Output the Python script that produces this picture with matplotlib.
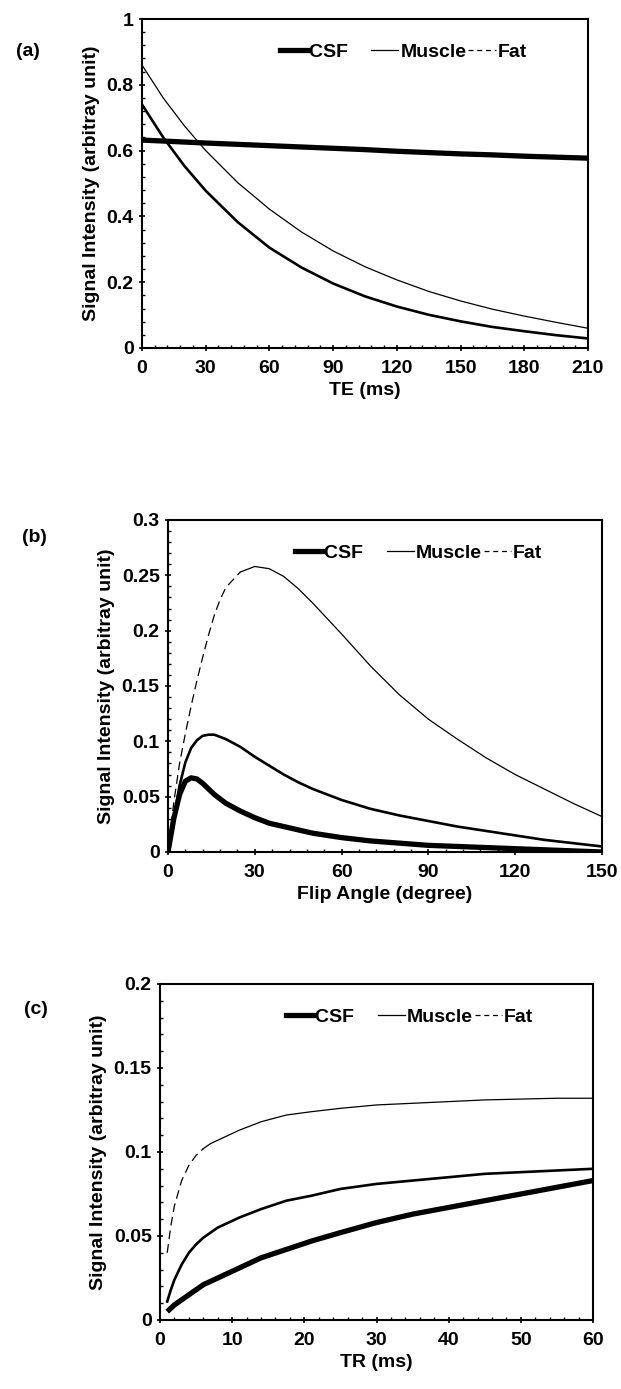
import matplotlib
matplotlib.use("Agg")
import matplotlib.pyplot as plt
from matplotlib.lines import Line2D
from matplotlib.ticker import AutoMinorLocator

plt.rcParams['font.family'] = ['Liberation Sans', 'DejaVu Sans']
plt.rcParams['font.weight'] = 'bold'
plt.rcParams['axes.labelweight'] = 'bold'

# ---------------- Panel (a): signal vs TE ----------------
te = [0, 10, 20, 30, 45, 60, 75, 90, 105, 120, 135, 150, 165, 180, 195, 210]
a_csf = [0.632, 0.629, 0.626, 0.623, 0.619, 0.615, 0.611, 0.607, 0.603, 0.598,
         0.594, 0.590, 0.587, 0.583, 0.580, 0.577]
a_muscle = [0.74, 0.64, 0.553, 0.478, 0.383, 0.305, 0.245, 0.196, 0.157, 0.126,
            0.101, 0.081, 0.064, 0.051, 0.039, 0.029]
a_fat = [0.86, 0.76, 0.675, 0.60, 0.503, 0.422, 0.353, 0.295, 0.247, 0.207,
         0.172, 0.143, 0.118, 0.097, 0.078, 0.06]

# ---------------- Panel (b): signal vs flip angle ----------------
flip = [0, 2, 4, 6, 8, 10, 12, 14, 16, 18, 20, 25, 30, 35, 40, 45, 50, 60,
        70, 80, 90, 100, 110, 120, 130, 140, 150]
b_csf = [0.0, 0.03, 0.052, 0.064, 0.067, 0.066, 0.062, 0.057, 0.052, 0.048,
         0.044, 0.037, 0.031, 0.026, 0.023, 0.020, 0.017, 0.013, 0.010, 0.008,
         0.006, 0.005, 0.004, 0.003, 0.002, 0.001, 0.0]
b_muscle = [0.0, 0.03, 0.06, 0.081, 0.094, 0.101, 0.105, 0.106, 0.106, 0.104,
            0.102, 0.095, 0.086, 0.078, 0.070, 0.063, 0.057, 0.047, 0.039,
            0.033, 0.028, 0.023, 0.019, 0.015, 0.011, 0.008, 0.005]
b_fat = [0.0, 0.045, 0.08, 0.107, 0.132, 0.155, 0.176, 0.196, 0.214, 0.228,
         0.239, 0.253, 0.258, 0.256, 0.249, 0.238, 0.225, 0.197, 0.168, 0.142,
         0.12, 0.102, 0.085, 0.07, 0.057, 0.044, 0.032]
b_fat_dash_end = 25

# ---------------- Panel (c): signal vs TR ----------------
tr = [1, 1.5, 2, 3, 4, 5, 6, 7, 8, 9, 11, 14, 17.5, 21, 25, 30, 35, 40, 45,
      50, 55, 60]
c_csf = [0.005, 0.007, 0.009, 0.012, 0.015, 0.018, 0.021, 0.023, 0.025, 0.027,
         0.031, 0.037, 0.042, 0.047, 0.052, 0.058, 0.063, 0.067, 0.071, 0.075,
         0.079, 0.083]
c_muscle = [0.011, 0.018, 0.024, 0.033, 0.040, 0.045, 0.049, 0.052, 0.055,
            0.057, 0.061, 0.066, 0.071, 0.074, 0.078, 0.081, 0.083, 0.085,
            0.087, 0.088, 0.089, 0.090]
c_fat = [0.040, 0.056, 0.068, 0.083, 0.092, 0.098, 0.102, 0.105, 0.107, 0.109,
         0.113, 0.118, 0.122, 0.124, 0.126, 0.128, 0.129, 0.130, 0.131, 0.1315,
         0.132, 0.132]
c_fat_dash_end = 6

labels = ['CSF', 'Muscle', 'Fat']

W, H = 621, 1389
fig = plt.figure(figsize=(W / 100, H / 100), dpi=100)

def rect(l, r, t, b):
    return [l / W, 1 - b / H, (r - l) / W, (b - t) / H]

FS = 14
LW_CSF, LW_MUS, LW_FAT = 3.8, 1.9, 0.9

def style(ax, xlim, ylim, xticks, yticks, ytl, xlabel):
    ax.set_xlim(*xlim)
    ax.set_ylim(*ylim)
    ax.set_xticks(xticks)
    ax.set_xticklabels([str(x) for x in xticks], fontsize=FS)
    ax.set_yticks(yticks)
    ax.set_yticklabels(ytl, fontsize=FS)
    ax.xaxis.set_minor_locator(AutoMinorLocator(5))
    ax.yaxis.set_minor_locator(AutoMinorLocator(5))
    ax.tick_params(which='major', direction='inout', length=5, width=1.2)
    ax.tick_params(which='minor', direction='in', length=2, width=1.0)
    ax.tick_params(axis='x', which='major', pad=6)
    for s in ax.spines.values():
        s.set_linewidth(1.5)
    ax.set_xlabel(xlabel, fontsize=FS, labelpad=4)
    ax.set_ylabel('Signal Intensity (arbitray unit)', fontsize=FS, labelpad=5)

def legend(ax):
    handles = [Line2D([], [], color='black', lw=LW_CSF),
               Line2D([], [], color='black', lw=0.9),
               Line2D([], [], color='black', lw=0.9, ls=(0, (4, 3)))]
    ax.legend(handles, [labels[0] + '    ', labels[1], labels[2]], ncol=3,
              frameon=False, loc='upper right', bbox_to_anchor=(0.88, 0.95),
              fontsize=FS, handlelength=1.4, handletextpad=0.1,
              columnspacing=0.1, borderaxespad=0.0)

def split_dash(xs, ys, cut):
    x1 = [x for x in xs if x <= cut]
    y1 = [y for x, y in zip(xs, ys) if x <= cut]
    x2 = [x for x in xs if x >= cut]
    y2 = [y for x, y in zip(xs, ys) if x >= cut]
    return x1, y1, x2, y2

# (a)
ax = fig.add_axes(rect(142, 588, 19, 348))
ax.plot(te, a_csf, color='black', lw=LW_CSF, solid_capstyle='butt')
ax.plot(te, a_muscle, color='black', lw=LW_MUS)
ax.plot(te, a_fat, color='black', lw=LW_FAT)
style(ax, (0, 210), (0, 1), list(range(0, 211, 30)),
      [0, 0.2, 0.4, 0.6, 0.8, 1], ['0', '0.2', '0.4', '0.6', '0.8', '1'], 'TE (ms)')
legend(ax)
fig.text(16 / W, 1 - 52 / H, '(a)', fontsize=FS, va='center')

# (b)
ax = fig.add_axes(rect(168, 602, 520, 852))
ax.plot(flip, b_csf, color='black', lw=LW_CSF, solid_capstyle='butt')
ax.plot(flip, b_muscle, color='black', lw=LW_MUS)
fx1, fy1, fx2, fy2 = split_dash(flip, b_fat, b_fat_dash_end)
ax.plot(fx1, fy1, color='black', lw=LW_FAT, ls=(0, (7, 4)))
ax.plot(fx2, fy2, color='black', lw=LW_FAT)
style(ax, (0, 150), (0, 0.3), list(range(0, 151, 30)),
      [0, 0.05, 0.1, 0.15, 0.2, 0.25, 0.3],
      ['0', '0.05', '0.1', '0.15', '0.2', '0.25', '0.3'], 'Flip Angle (degree)')
legend(ax)
fig.text(22 / W, 1 - 538 / H, '(b)', fontsize=FS, va='center')

# (c)
ax = fig.add_axes(rect(160, 593, 984, 1320))
ax.plot(tr, c_csf, color='black', lw=LW_CSF, solid_capstyle='butt')
ax.plot(tr, c_muscle, color='black', lw=LW_MUS)
gx1, gy1, gx2, gy2 = split_dash(tr, c_fat, c_fat_dash_end)
ax.plot(gx1, gy1, color='black', lw=LW_FAT, ls=(0, (7, 4)))
ax.plot(gx2, gy2, color='black', lw=LW_FAT)
style(ax, (0, 60), (0, 0.2), list(range(0, 61, 10)),
      [0, 0.05, 0.1, 0.15, 0.2], ['0', '0.05', '0.1', '0.15', '0.2'], 'TR (ms)')
legend(ax)
fig.text(24 / W, 1 - 1010 / H, '(c)', fontsize=FS, va='center')

fig.savefig('out.png', dpi=100)
